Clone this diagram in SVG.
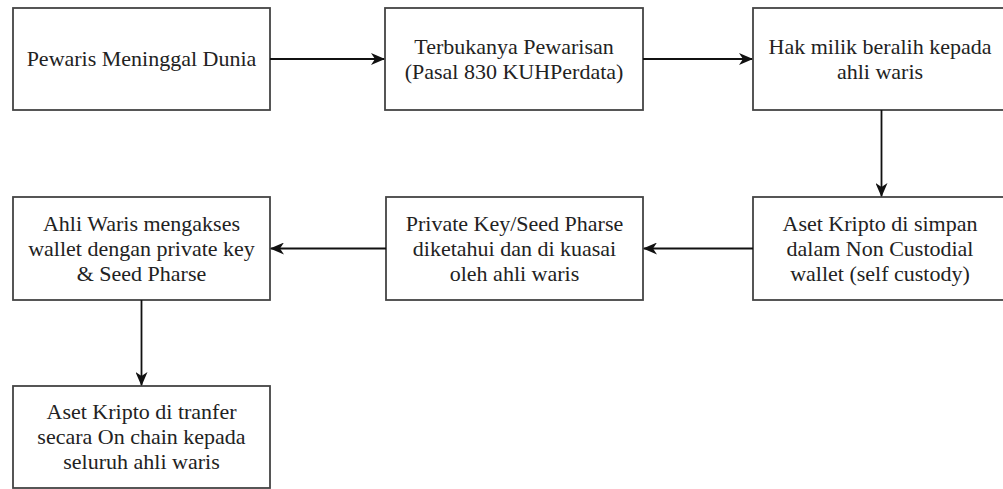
<svg xmlns="http://www.w3.org/2000/svg" width="1003" height="489" viewBox="0 0 1003 489">
<style>
.box{fill:#ffffff;stroke:#444444;stroke-width:1.8}
.t{font-family:"Liberation Serif","Times New Roman",serif;font-size:22px;fill:#222222;text-anchor:middle}
.c{fill:none;stroke:#111111;stroke-width:1.8}
</style>
<defs>
<marker id="ah" viewBox="0 0 14 12" refX="13" refY="6" markerWidth="14" markerHeight="12" markerUnits="userSpaceOnUse" orient="auto">
<path d="M0,0 L14,6 L0,12 L4,6 z" fill="#111111"/>
</marker>
</defs>
<rect width="1003" height="489" fill="#ffffff"/>
<g id="n1"><rect class="box" x="13" y="8" width="257" height="102"/><text class="t" x="141.5" y="66">Pewaris Meninggal Dunia</text></g>
<g id="n2"><rect class="box" x="385" y="8" width="258" height="102"/><text class="t" x="514" y="54">Terbukanya Pewarisan</text><text class="t" x="514" y="79">(Pasal 830 KUHPerdata)</text></g>
<g id="n3"><rect class="box" x="753" y="8" width="257" height="102"/><text class="t" x="880" y="54">Hak milik beralih kepada</text><text class="t" x="880" y="79">ahli waris</text></g>
<g id="n4"><rect class="box" x="753" y="197" width="257" height="103"/><text class="t" x="880" y="230.5">Aset Kripto di simpan</text><text class="t" x="880" y="255.5">dalam Non Custodial</text><text class="t" x="880" y="280.5">wallet (self custody)</text></g>
<g id="n5"><rect class="box" x="386" y="197" width="257" height="103"/><text class="t" x="514.5" y="230.5">Private Key/Seed Pharse</text><text class="t" x="514.5" y="255.5">diketahui dan di kuasai</text><text class="t" x="514.5" y="280.5">oleh ahli waris</text></g>
<g id="n6"><rect class="box" x="13" y="197" width="257" height="103"/><text class="t" x="141.5" y="230.5">Ahli Waris mengakses</text><text class="t" x="141.5" y="255.5">wallet dengan private key</text><text class="t" x="141.5" y="280.5">&amp; Seed Pharse</text></g>
<g id="n7"><rect class="box" x="13" y="386" width="257" height="102"/><text class="t" x="141.5" y="419">Aset Kripto di tranfer</text><text class="t" x="141.5" y="444">secara On chain kepada</text><text class="t" x="141.5" y="469">seluruh ahli waris</text></g>
<g id="connectors">
<line class="c" x1="270" y1="59" x2="384" y2="59" marker-end="url(#ah)"/>
<line class="c" x1="643" y1="59" x2="752" y2="59" marker-end="url(#ah)"/>
<line class="c" x1="881.5" y1="110" x2="881.5" y2="196" marker-end="url(#ah)"/>
<line class="c" x1="753" y1="248.5" x2="644" y2="248.5" marker-end="url(#ah)"/>
<line class="c" x1="386" y1="248.5" x2="271" y2="248.5" marker-end="url(#ah)"/>
<line class="c" x1="141.5" y1="300" x2="141.5" y2="385" marker-end="url(#ah)"/>
</g>
</svg>
